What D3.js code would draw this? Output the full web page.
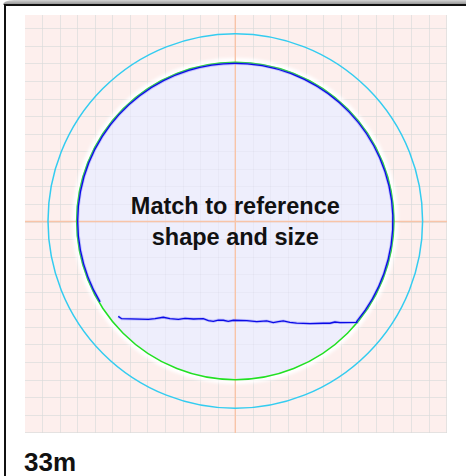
<!DOCTYPE html>
<html>
<head>
<meta charset="utf-8">
<script src="https://cdn.jsdelivr.net/npm/d3@7"></script>
<style>
  body { margin: 0; background: #fff; }
  text { font-family: "Liberation Sans", Arial, sans-serif; font-weight: bold; }
</style>
</head>
<body>
<div id="chart"></div>
<script>
// grid units (1 unit = one grid cell)
const gridTicks = [-12, -11, -10, -9, -8, -7, -6, -5, -4, -3, -2, -1, 0, 1, 2, 3, 4, 5, 6, 7, 8, 9, 10, 11, 12];

const ringNames = ["outer", "fit"];
const ringRadii = [10.66, 9.03];

// traced outline: arc part + wobbly bottom edge
const traceRadius = 8.97;
const traceArcDeg = [-39.7, 210.9];
const traceX = [-6.66, -6.47, -4.95, -4.57, -4.10, -3.72, -3.24, -2.86, -2.38, -1.82, -1.53, -1.25, -0.97, -0.68, -0.40, -0.11, 0.65, 1.22, 1.79, 2.16, 2.45, 2.73, 3.11, 3.49, 4.26, 5.01, 5.39, 5.67, 5.96, 6.91];
const traceY = [-5.40, -5.53, -5.57, -5.53, -5.45, -5.53, -5.57, -5.51, -5.55, -5.53, -5.64, -5.68, -5.61, -5.62, -5.68, -5.62, -5.64, -5.70, -5.66, -5.75, -5.70, -5.66, -5.74, -5.78, -5.81, -5.79, -5.79, -5.72, -5.75, -5.74];

const labelLines = ["Match to reference", "shape and size"];
const sizeLabel = "33m";

const width = 466, height = 476;
const cell = 17.57, cx = 235.3, cy = 221.5;
const panel = { left: 25, top: 15, right: 447, bottom: 433 };

const svg = d3.select("#chart").append("svg")
  .attr("width", width)
  .attr("height", height);

const defs = svg.append("defs");
const grad = defs.append("linearGradient").attr("id", "topbar")
  .attr("x1", 0).attr("y1", 0).attr("x2", 0).attr("y2", 1);
grad.append("stop").attr("offset", "0%").attr("stop-color", "#d4d4d4");
grad.append("stop").attr("offset", "100%").attr("stop-color", "#888");
defs.append("filter").attr("id", "soft")
  .attr("x", "-10%").attr("y", "-10%").attr("width", "120%").attr("height", "120%")
  .append("feGaussianBlur").attr("stdDeviation", 1.6);
defs.append("clipPath").attr("id", "panelClip")
  .append("rect")
  .attr("x", panel.left).attr("y", panel.top)
  .attr("width", panel.right - panel.left)
  .attr("height", panel.bottom - panel.top);

// window-like frame
svg.append("path")
  .attr("d", `M3,5 Q3,0.5 14,0 L${width},0 L${width},5 Z`)
  .attr("fill", "url(#topbar)");
svg.append("line")
  .attr("x1", 4).attr("x2", width).attr("y1", 5).attr("y2", 5)
  .attr("stroke", "#111").attr("stroke-width", 2);
svg.append("line")
  .attr("x1", 5).attr("x2", 5).attr("y1", 4).attr("y2", height)
  .attr("stroke", "#111").attr("stroke-width", 2);

// scales
const x = d3.scaleLinear().domain([-12, 12]).range([cx - 12 * cell, cx + 12 * cell]);
const y = d3.scaleLinear().domain([12, -12]).range([cy - 12 * cell, cy + 12 * cell]);
const rpx = (r) => x(r) - x(0);

const plot = svg.append("g").attr("clip-path", "url(#panelClip)");

plot.append("rect")
  .attr("x", panel.left).attr("y", panel.top)
  .attr("width", panel.right - panel.left)
  .attr("height", panel.bottom - panel.top)
  .attr("fill", "#fdefed");

// grid
plot.selectAll(".vgrid")
  .data(gridTicks)
  .join("line")
  .attr("class", "vgrid")
  .attr("x1", (d) => Math.round(x(d)) + 0.5).attr("x2", (d) => Math.round(x(d)) + 0.5)
  .attr("y1", panel.top).attr("y2", panel.bottom)
  .attr("stroke", "#ebe8e7").attr("stroke-width", 1);
plot.selectAll(".hgrid")
  .data(gridTicks)
  .join("line")
  .attr("class", "hgrid")
  .attr("y1", (d) => Math.round(y(d)) + 0.5).attr("y2", (d) => Math.round(y(d)) + 0.5)
  .attr("x1", panel.left).attr("x2", panel.right)
  .attr("stroke", "#ebe8e7").attr("stroke-width", 1);

// white halo behind the fitted shape
plot.append("circle")
  .attr("cx", x(0)).attr("cy", y(0) - 0.5)
  .attr("r", rpx(ringRadii[1]) + 4.5)
  .attr("fill", "#fff")
  .attr("filter", "url(#soft)");

// lavender fill
plot.append("circle")
  .attr("cx", x(0)).attr("cy", y(0) - 0.5)
  .attr("r", rpx(ringRadii[1]))
  .attr("fill", "#e2e2fa")
  .attr("fill-opacity", 0.6);

// faint grid through the fill
plot.selectAll(".vgrid2")
  .data(gridTicks)
  .join("line")
  .attr("class", "vgrid2")
  .attr("x1", (d) => Math.round(x(d)) + 0.5).attr("x2", (d) => Math.round(x(d)) + 0.5)
  .attr("y1", panel.top).attr("y2", panel.bottom)
  .attr("stroke", "#000").attr("stroke-opacity", 0.025);
plot.selectAll(".hgrid2")
  .data(gridTicks)
  .join("line")
  .attr("class", "hgrid2")
  .attr("y1", (d) => Math.round(y(d)) + 0.5).attr("y2", (d) => Math.round(y(d)) + 0.5)
  .attr("x1", panel.left).attr("x2", panel.right)
  .attr("stroke", "#000").attr("stroke-opacity", 0.025);

// centre cross
plot.append("line")
  .attr("x1", x(0)).attr("x2", x(0))
  .attr("y1", panel.top).attr("y2", panel.bottom)
  .attr("stroke", "#f8c4a8").attr("stroke-width", 1.4);
plot.append("line")
  .attr("y1", y(0)).attr("y2", y(0))
  .attr("x1", panel.left).attr("x2", panel.right)
  .attr("stroke", "#f8c4a8").attr("stroke-width", 1.4);

// rings
const ringColor = { outer: "#33ccf0", fit: "#22e022" };
plot.selectAll(".ring")
  .data(ringNames)
  .join("circle")
  .attr("class", "ring")
  .attr("cx", x(0)).attr("cy", y(0) - 0.5)
  .attr("r", (d, i) => rpx(ringRadii[i]))
  .attr("fill", "none")
  .attr("stroke", (d) => ringColor[d])
  .attr("stroke-width", 1.5);

// traced outline
const tracePath = () => {
  const p = d3.path();
  traceX.forEach((tx, i) => {
    if (i === 0) p.moveTo(x(tx), y(traceY[i]));
    else p.lineTo(x(tx), y(traceY[i]));
  });
  const a0 = -traceArcDeg[0] * Math.PI / 180;
  const a1 = -traceArcDeg[1] * Math.PI / 180;
  p.arc(x(0), y(0) - 0.5, rpx(traceRadius), a0, a1, true);
  return p.toString();
};
plot.append("path")
  .attr("d", tracePath())
  .attr("fill", "none")
  .attr("stroke", "#6a6aff")
  .attr("stroke-opacity", 0.35)
  .attr("stroke-width", 3);
plot.append("path")
  .attr("d", tracePath())
  .attr("fill", "none")
  .attr("stroke", "#0a0ae6")
  .attr("stroke-width", 1.3);

// labels
svg.selectAll(".centre-label")
  .data(labelLines)
  .join("text")
  .attr("class", "centre-label")
  .attr("x", x(0))
  .attr("y", (d, i) => 214 + i * 31)
  .attr("text-anchor", "middle")
  .attr("font-size", 23.5)
  .attr("fill", "#111")
  .text((d) => d);

svg.append("text")
  .attr("x", 24)
  .attr("y", 471)
  .attr("font-size", 26)
  .attr("fill", "#111")
  .text(sizeLabel);
</script>
</body>
</html>
